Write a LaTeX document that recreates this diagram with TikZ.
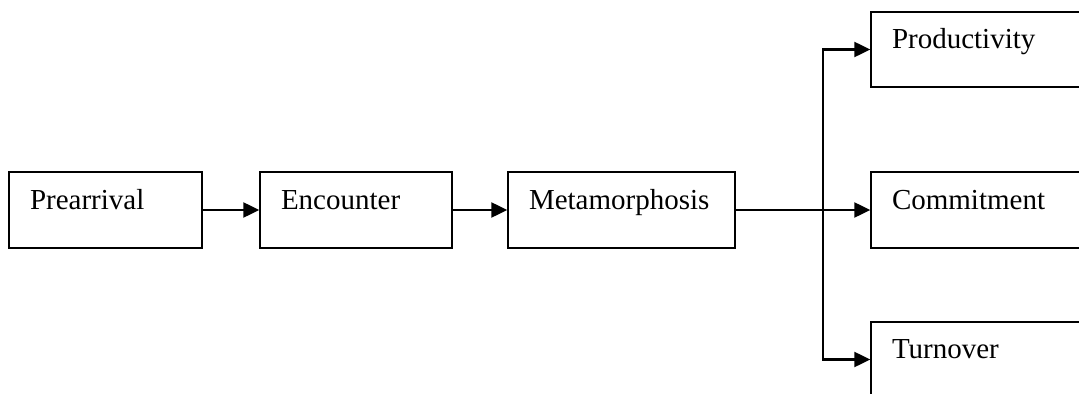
\documentclass[tikz,border=0pt]{standalone}
\usepackage{fontspec}
\setmainfont{Liberation Serif}
\usepackage{tikz}
\usetikzlibrary{arrows.meta,positioning}

\tikzset{
  stage/.style={draw, rectangle, line width=0.75pt, minimum height=1.52cm,
    inner xsep=0.42cm, align=left, text height=0.3cm, text depth=0.34cm,
    font=\fontsize{16.5}{20}\selectfont},
  flow/.style={line width=1.2pt, -{Triangle[length=3.2mm,width=3mm]}}
}

\begin{document}
\begin{tikzpicture}
        \useasboundingbox (0,0) rectangle (21.58,-7.88);

        % Stages
        \node[stage, text width=3.02cm] (prearrival) at (2.11,-4.2) {Prearrival};
        \node[stage, text width=3.00cm] (encounter) at (7.12,-4.2) {Encounter};
        \node[stage, text width=3.70cm] (metamorphosis) at (12.43,-4.2) {Metamorphosis};

        % Outcomes
        \node[stage, text width=3.76cm, minimum height=1.5cm] (productivity) at (19.72,-0.99) {Productivity};
        \node[stage, text width=3.76cm] (commitment) at (19.72,-4.2) {Commitment};
        \node[stage, text width=3.76cm, minimum height=1.5cm] (turnover) at (19.72,-7.19) {Turnover};

        % Arrows
        \draw[flow] (prearrival) -- (encounter);
        \draw[flow] (encounter) -- (metamorphosis);
        \draw[flow] (metamorphosis) -- (commitment);

        % Branch to outcomes
        \coordinate (branch) at (16.46,-4.2);
        \draw[flow] (branch) |- (productivity.west);
        \draw[flow] (branch) |- (turnover.west);
    \end{tikzpicture}
\end{document}
